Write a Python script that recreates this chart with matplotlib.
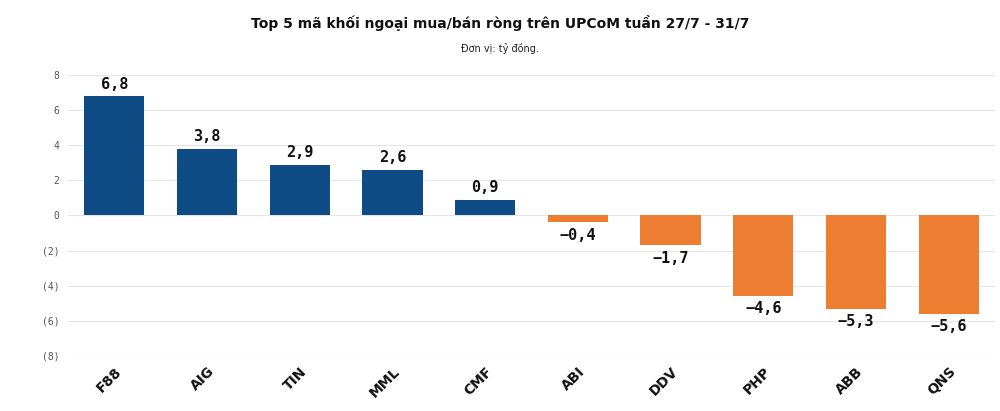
import numpy as np
import matplotlib
matplotlib.use("Agg")
import matplotlib.pyplot as plt

tickers = ["F88", "AIG", "TIN", "MML", "CMF", "ABI", "DDV", "PHP", "ABB", "QNS"]
values = [6.8, 3.8, 2.9, 2.6, 0.9, -0.4, -1.7, -4.6, -5.3, -5.6]
y_ticks = [8, 6, 4, 2, 0, -2, -4, -6, -8]
y_tick_labels = ["8", "6", "4", "2", "0", "(2)", "(4)", "(6)", "(8)"]

blue = "#0F4C86"
orange = "#ED7D31"

fig = plt.figure(figsize=(10, 4.11), dpi=100)
ax = fig.add_axes([0.068, 0.134, 0.927, 0.6835])

x = np.arange(len(tickers))
colors = [blue if v >= 0 else orange for v in values]
ax.bar(x, values, width=0.65, color=colors, zorder=3)

for xi, v in zip(x, values):
    txt = f"{v:.1f}".replace(".", ",").replace("-", "\u2212")
    if v >= 0:
        ax.text(xi, v + 0.25, txt, ha="center", va="bottom", fontsize=11,
                fontweight="bold", family="DejaVu Sans Mono", color="#111111")
    else:
        ax.text(xi, v - 0.3, txt, ha="center", va="top", fontsize=11,
                fontweight="bold", family="DejaVu Sans Mono", color="#111111")

ax.set_xlim(-0.5, 9.5)
ax.set_ylim(-8, 8)
ax.set_yticks(y_ticks)
ax.set_yticklabels(y_tick_labels, family="DejaVu Sans Mono", fontsize=7, color="#555555")
ax.set_xticks(x)
ax.set_xticklabels(tickers, rotation=45, ha="right", rotation_mode="anchor",
                   fontsize=10, fontweight="bold", color="#111111")
ax.tick_params(axis="both", length=0)
ax.tick_params(axis="y", pad=6)
ax.tick_params(axis="x", pad=6)
ax.grid(axis="y", color="#e6e6e6", linewidth=0.8, zorder=0)
for s in ax.spines.values():
    s.set_visible(False)

fig.text(0.5, 0.945, "Top 5 mã khối ngoại mua/bán ròng trên UPCoM tuần 27/7 - 31/7",
         ha="center", va="center", fontsize=10, fontweight="bold", color="#111111")
fig.text(0.5, 0.883, "Đơn vị: tỷ đồng.", ha="center", va="center", fontsize=7, color="#222222")

fig.savefig("out.png", dpi=100)
